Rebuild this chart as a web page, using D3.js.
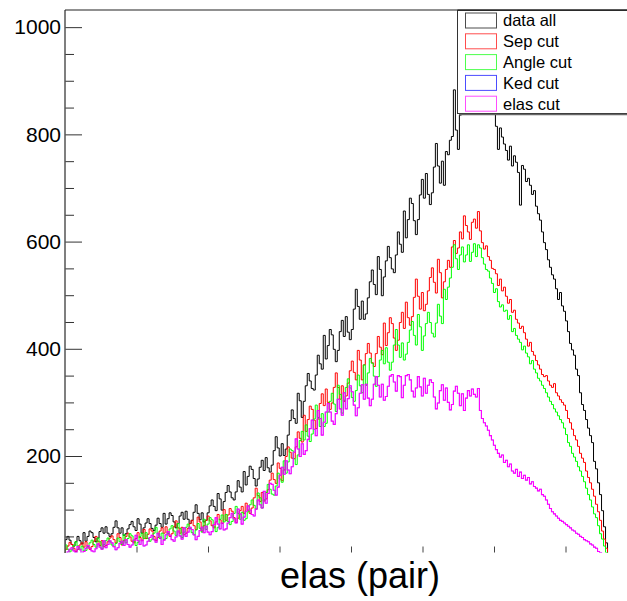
<!DOCTYPE html>
<html>
<head>
<meta charset="utf-8">
<script src="https://cdn.jsdelivr.net/npm/d3@7"></script>
<style>
  body { margin: 0; background: #fff; }
  svg { display: block; }
  text { font-family: "Liberation Sans", Arial, Helvetica, sans-serif; }
</style>
</head>
<body>
<svg id="chart" width="627" height="601"></svg>
<script>
// Histogram binning: 271 bins of equal width starting at 0
const binWidth = 0.0056;

// Counts per bin for each selection stage
const dataAll = [
  44,50,43,35,32,40,50,42,36,57, 41,50,60,57,48,40,47,59,66,56,
  68,56,50,55,67,79,66,56,66,52, 55,64,72,78,68,61,83,73,56,66,
  75,83,74,65,61,71,84,74,67,93, 73,83,94,89,77,66,74,88,95,82,
  97,82,74,80,95,109,93,81,94,77, 80,94,107,118,106,98,130,120,99,115,
  132,145,133,122,118,133,154,142,133,171, 146,162,181,175,158,144,157,179,192,173,
  197,178,170,183,210,236,215,200,223,201, 213,239,266,286,270,261,317,303,272,302,
  331,354,340,326,323,351,388,372,362,425, 381,406,436,426,399,376,397,432,453,423,
  460,431,417,436,474,511,479,455,489,455, 465,495,525,547,520,501,572,548,499,534,
  564,591,570,549,542,575,618,595,580,657, 607,641,681,671,639,613,641,687,716,681,
  727,688,669,691,739,783,741,709,750,705, 768,762,789,796,883,808,772,836,851,842,
  868,857,890,872,861,885,878,892,866,874, 880,858,870,850,838,815,772,812,795,782,
  770,752,778,741,760,748,729,668,742,735, 712,718,705,688,695,666,652,640,618,598,
  585,566,552,538,530,512,492,505,480,470, 452,432,410,398,388,362,350,318,296,285,
  268,252,238,225,190,176,150,128,98,68,38];

const sepCut = [
  26,32,39,35,28,22,26,34,38,30, 40,31,26,31,41,50,41,33,42,31,
  33,40,47,51,44,38,55,48,34,42, 50,56,49,41,38,46,57,48,42,63,
  46,54,64,60,50,42,48,60,66,56, 68,56,50,55,68,79,66,56,67,53,
  56,65,74,80,70,63,86,77,60,70, 80,88,79,70,66,77,91,81,74,100,
  80,90,102,97,85,76,84,98,106,93, 112,99,93,103,122,140,126,115,132,116,
  120,137,155,168,156,149,187,177,154,174, 199,217,207,196,195,217,245,233,226,276,
  246,268,293,287,267,251,269,298,316,294, 325,300,287,299,328,355,328,306,331,302,
  312,336,359,377,356,342,397,379,342,370, 391,410,392,374,367,391,423,403,389,448,
  406,430,458,447,420,397,416,449,468,438, 487,458,444,460,496,530,498,474,505,471,
  483,508,533,551,524,504,567,542,495,525, 548,565,552,590,602,578,588,618,605,648,
  630,618,604,636,642,625,656,620,598,586, 592,572,565,550,548,540,518,530,508,515,
  498,485,492,468,472,455,448,438,442,430, 418,405,412,395,388,378,370,362,352,348,
  350,340,332,328,335,318,312,305,300,295, 285,270,262,250,238,230,218,205,196,188,
  172,160,150,138,125,110,96,80,60,45,28];

const angleCut = [
  34,26,21,25,33,40,32,25,32,23, 24,31,38,43,35,30,47,40,27,35,
  42,47,40,34,31,37,47,40,35,53, 38,46,55,51,41,33,39,50,56,46,
  57,46,41,45,56,67,55,46,56,44, 46,55,64,70,60,52,74,65,48,58,
  67,73,65,57,53,62,74,65,58,82, 63,73,85,81,69,59,67,82,90,77,
  91,78,72,78,93,106,93,82,95,80, 83,96,109,118,108,101,131,122,103,118,
  132,147,138,129,127,144,168,157,151,191, 168,189,213,210,195,184,202,229,246,230,
  258,237,227,241,269,295,272,255,279,255, 261,282,302,317,297,283,332,315,280,304,
  328,344,327,309,302,322,351,331,318,370, 332,355,382,373,349,330,348,379,397,372,
  402,375,360,375,407,436,407,384,411,379, 390,412,435,451,425,407,464,441,397,424,
  447,468,449,429,422,448,483,461,447,511, 492,515,532,552,594,568,548,575,590,562,
  575,594,563,580,596,572,594,588,570,558, 548,545,532,522,505,512,488,478,482,470,
  472,455,462,432,438,425,418,412,398,405, 392,385,372,378,362,355,345,340,332,326,
  318,310,302,296,288,282,275,268,262,252, 240,225,218,205,198,190,180,172,162,152,
  140,128,118,105,92,85,70,55,45,32,20];

const elasCut = [
  17,21,26,29,23,19,31,26,16,22, 28,33,28,23,21,27,36,30,26,42,
  29,35,42,38,31,25,29,37,41,33, 44,35,30,34,43,52,42,35,43,32,
  34,41,48,52,44,39,56,49,35,43, 53,59,52,44,41,49,60,51,45,66,
  50,58,67,63,53,44,50,61,67,57, 69,58,53,59,72,85,73,64,75,62,
  64,75,85,93,83,75,101,92,73,86, 97,107,99,91,88,101,118,109,103,134,
  112,130,149,147,136,127,142,164,179,166, 191,174,167,180,207,232,213,199,223,203,
  210,231,251,267,250,238,285,270,239,263, 282,298,282,265,259,279,306,288,276,318,
  288,307,331,320,295,275,290,317,333,306, 334,308,294,306,334,348,332,310,334,304,
  311,330,349,352,338,321,350,348,309,332, 350,352,342,321,310,327,348,329,312,345,
  317,332,342,337,310,288,299,322,333,304, 327,300,286,296,321,330,317,294,316,285,
  308,322,312,325,315,310,326,285,270,262, 256,248,238,230,220,212,205,198,202,188,
  192,180,185,172,168,175,162,170,158,164, 155,160,148,152,143,140,135,138,128,125,
  118,110,102,96,92,88,84,80,78,75, 72,69,66,62,60,56,54,50,48,44,
  42,40,36,34,30,28,22,20,18,16,15];

// The Ked cut keeps the same events as the elas cut, so it sits underneath it
const kedCut = elasCut.slice();

const seriesNames = ["data all", "Sep cut", "Angle cut", "Ked cut", "elas cut"];
const seriesColors = ["#000000", "#ff0000", "#00ff00", "#0000ff", "#ff00ff"];
const seriesValues = [dataAll, sepCut, angleCut, kedCut, elasCut];
const seriesWidths = [1, 1, 1, 0.4, 1.1];

const yMajorTicks = [200, 400, 600, 800, 1000];
const yMinorTicks = [50, 100, 150, 250, 300, 350, 450, 500, 550, 650, 700, 750, 850, 900, 950];
const xMajorTicks = [0.2, 0.4, 0.6, 0.8, 1.0, 1.2, 1.4];
const xTitle = "elas (pair)";

const svg = d3.select("#chart");
const frame = { left: 65, right: 637, top: 10, bottom: 552.5 };

const x = d3.scaleLinear().domain([0, 1.6]).range([frame.left, frame.right]);
const y = d3.scaleLinear().domain([20, 1032]).range([frame.bottom, frame.top]);

svg.append("defs").append("clipPath").attr("id", "plotClip")
  .append("rect")
  .attr("x", frame.left).attr("y", frame.top)
  .attr("width", frame.right - frame.left)
  .attr("height", frame.bottom - frame.top);

// Step outline of a histogram, closed down to zero at both ends
const stepLine = d3.line().curve(d3.curveStepAfter);
function histPoints(vals) {
  const pts = [[x(0), y(0)]];
  vals.forEach((v, i) => pts.push([x(i * binWidth), y(v)]));
  const xe = x(vals.length * binWidth);
  pts.push([xe, y(vals[vals.length - 1])]);
  pts.push([xe, y(0)]);
  return pts;
}

const plot = svg.append("g").attr("clip-path", "url(#plotClip)");
seriesValues.forEach((vals, k) => {
  plot.append("path")
    .attr("d", stepLine(histPoints(vals)))
    .attr("fill", "none")
    .attr("stroke", seriesColors[k])
    .attr("stroke-width", seriesWidths[k]);
});

// Y axis: major ticks with labels, minor ticks without
const yAxisMajor = d3.axisLeft(y).tickValues(yMajorTicks)
  .tickSize(-17).tickSizeOuter(0).tickPadding(4).tickFormat(d3.format("d"));
const gy = svg.append("g").attr("transform", `translate(${frame.left},0)`).call(yAxisMajor);
gy.select(".domain").remove();
gy.selectAll("line").attr("stroke", "#333").attr("stroke-width", 1);
gy.selectAll("text").attr("font-size", 21).attr("fill", "#000");

const yAxisMinor = d3.axisLeft(y).tickValues(yMinorTicks)
  .tickSize(-9).tickSizeOuter(0).tickFormat("");
const gym = svg.append("g").attr("transform", `translate(${frame.left},0)`).call(yAxisMinor);
gym.select(".domain").remove();
gym.selectAll("line").attr("stroke", "#333").attr("stroke-width", 1);

svg.append("line")
  .attr("x1", frame.left).attr("x2", frame.left)
  .attr("y1", frame.top).attr("y2", frame.bottom + 0.5)
  .attr("stroke", "#555").attr("stroke-width", 1.5);

// X axis: inward ticks only
const xAxis = d3.axisBottom(x).tickValues(xMajorTicks).tickSize(-6).tickSizeOuter(0).tickFormat("");
const gx = svg.append("g").attr("transform", `translate(0,${frame.bottom})`).call(xAxis);
gx.select(".domain").remove();
gx.selectAll("line").attr("stroke", "#444").attr("stroke-width", 1);

// Frame top edge
svg.append("line")
  .attr("x1", frame.left).attr("x2", frame.right)
  .attr("y1", frame.top).attr("y2", frame.top)
  .attr("stroke", "#222").attr("stroke-width", 1.2);

svg.append("text")
  .attr("x", 360).attr("y", 588)
  .attr("text-anchor", "middle")
  .attr("font-size", 36)
  .attr("fill", "#000")
  .text(xTitle);

// Legend
const legend = svg.append("g");
legend.append("rect")
  .attr("x", 457.5).attr("y", 10.5)
  .attr("width", 200).attr("height", 103)
  .attr("fill", "#fff").attr("stroke", "#333").attr("stroke-width", 1);
legend.append("line")
  .attr("x1", 459).attr("x2", 640).attr("y1", 114.5).attr("y2", 114.5)
  .attr("stroke", "#666").attr("stroke-width", 1.5);
legend.append("line")
  .attr("x1", 457.5).attr("x2", 640).attr("y1", 10).attr("y2", 10)
  .attr("stroke", "#222").attr("stroke-width", 1.2);

seriesNames.forEach((name, k) => {
  const cy = 20.5 + k * 20.8;
  legend.append("rect")
    .attr("x", 465.5).attr("y", cy - 7.5)
    .attr("width", 31).attr("height", 15)
    .attr("fill", "none")
    .attr("stroke", seriesColors[k]).attr("stroke-opacity", 0.7).attr("stroke-width", 1);
  legend.append("text")
    .attr("x", 503).attr("y", cy)
    .attr("dy", "0.36em")
    .attr("font-size", 16.5)
    .attr("fill", "#000")
    .text(name);
});
</script>
</body>
</html>
